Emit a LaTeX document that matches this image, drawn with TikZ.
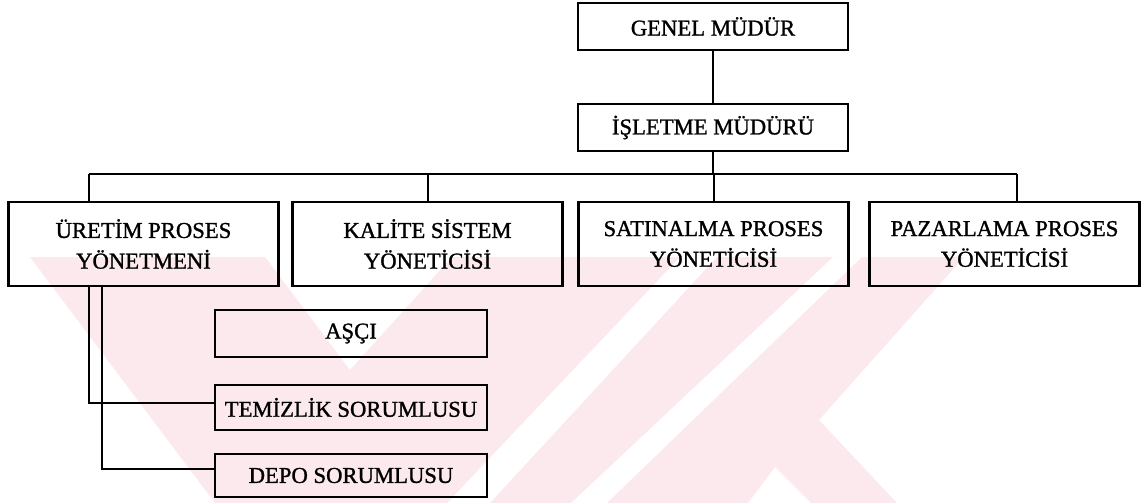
\documentclass[tikz,border=0pt]{standalone}
\usepackage{fontspec}
\setmainfont{Liberation Serif}[BoldFont={Liberation Serif},BoldFeatures={FakeBold=1.2}]
\usetikzlibrary{calc}
\definecolor{wmpink}{RGB}{252,233,237}
\begin{document}
\begin{tikzpicture}[x=0.75pt,y=-0.75pt,
  box/.style={draw=black, line width=2.1pt, inner sep=0pt, align=center,
              font=\fontsize{17}{23}\selectfont\bfseries},
  topbox/.style={box, minimum width=202.5pt, minimum height=35.25pt},
  midbox/.style={box, minimum width=202.5pt, minimum height=63pt},
  subbox/.style={box, minimum width=204pt},
  link/.style={draw=black, line width=1.5pt}]
\useasboundingbox (0,0) rectangle (1142,503);

% faint background emblem
\fill[wmpink, even odd rule]
  (30,257) -- (964,257) -- (819,420) -- (897,503) -- (215,503) -- cycle
  (265,257) -- (452,257) -- (350,370) -- cycle
  (447,503) -- (490,503) -- (717,257) -- (680,257) -- cycle
  (571,503) -- (607,503) -- (862,257) -- (833,257) -- cycle
  (748,503) -- (775,467) -- (811,503) -- cycle;

% units
\node[topbox] (genel)   at (713,26.5)  {GENEL MÜDÜR};
\node[topbox] (isletme) at (713,127.5) {İŞLETME MÜDÜRÜ};
\node[midbox] (uretim)  at (143.5,244) {ÜRETİM PROSES\\YÖNETMENİ};
\node[midbox] (kalite)  at (427.5,244) {KALİTE SİSTEM\\YÖNETİCİSİ};
\node[midbox] (satin)   at (713.5,244) {SATINALMA PROSES\\YÖNETİCİSİ};
\node[midbox] (pazar)   at (1004.5,244) {PAZARLAMA PROSES\\YÖNETİCİSİ};
\node[subbox, minimum height=35.25pt] (asci)  at (351,333.5) {AŞÇI};
\node[subbox, minimum height=33.75pt] (temiz) at (351,407.5) {TEMİZLİK SORUMLUSU};
\node[subbox, minimum height=32.25pt] (depo)  at (351,475.5) {DEPO SORUMLUSU};

% bus line under the plant manager
\coordinate (busL) at (89,174);
\coordinate (busR) at (1017,174);
\coordinate (drop) at (102,0);

\draw[link] (genel.south) -- (isletme.north);
\draw[link] (isletme.south) -- (isletme.south |- busL);
\draw[link] (busL) -- (busR);
\draw[link] (busL) -- (busL |- uretim.north);
\draw[link] (kalite.north) -- (kalite.north |- busL);
\draw[link] (satin.north) -- (satin.north |- busL);
\draw[link] (busR) -- (busR |- pazar.north);

% production staff
\draw[link] (uretim.south -| busL) |- ($(temiz.west)+(0,-4.5)$);
\draw[link] (uretim.south -| drop) |- ($(depo.west)+(0,-7)$);
\end{tikzpicture}
\end{document}
